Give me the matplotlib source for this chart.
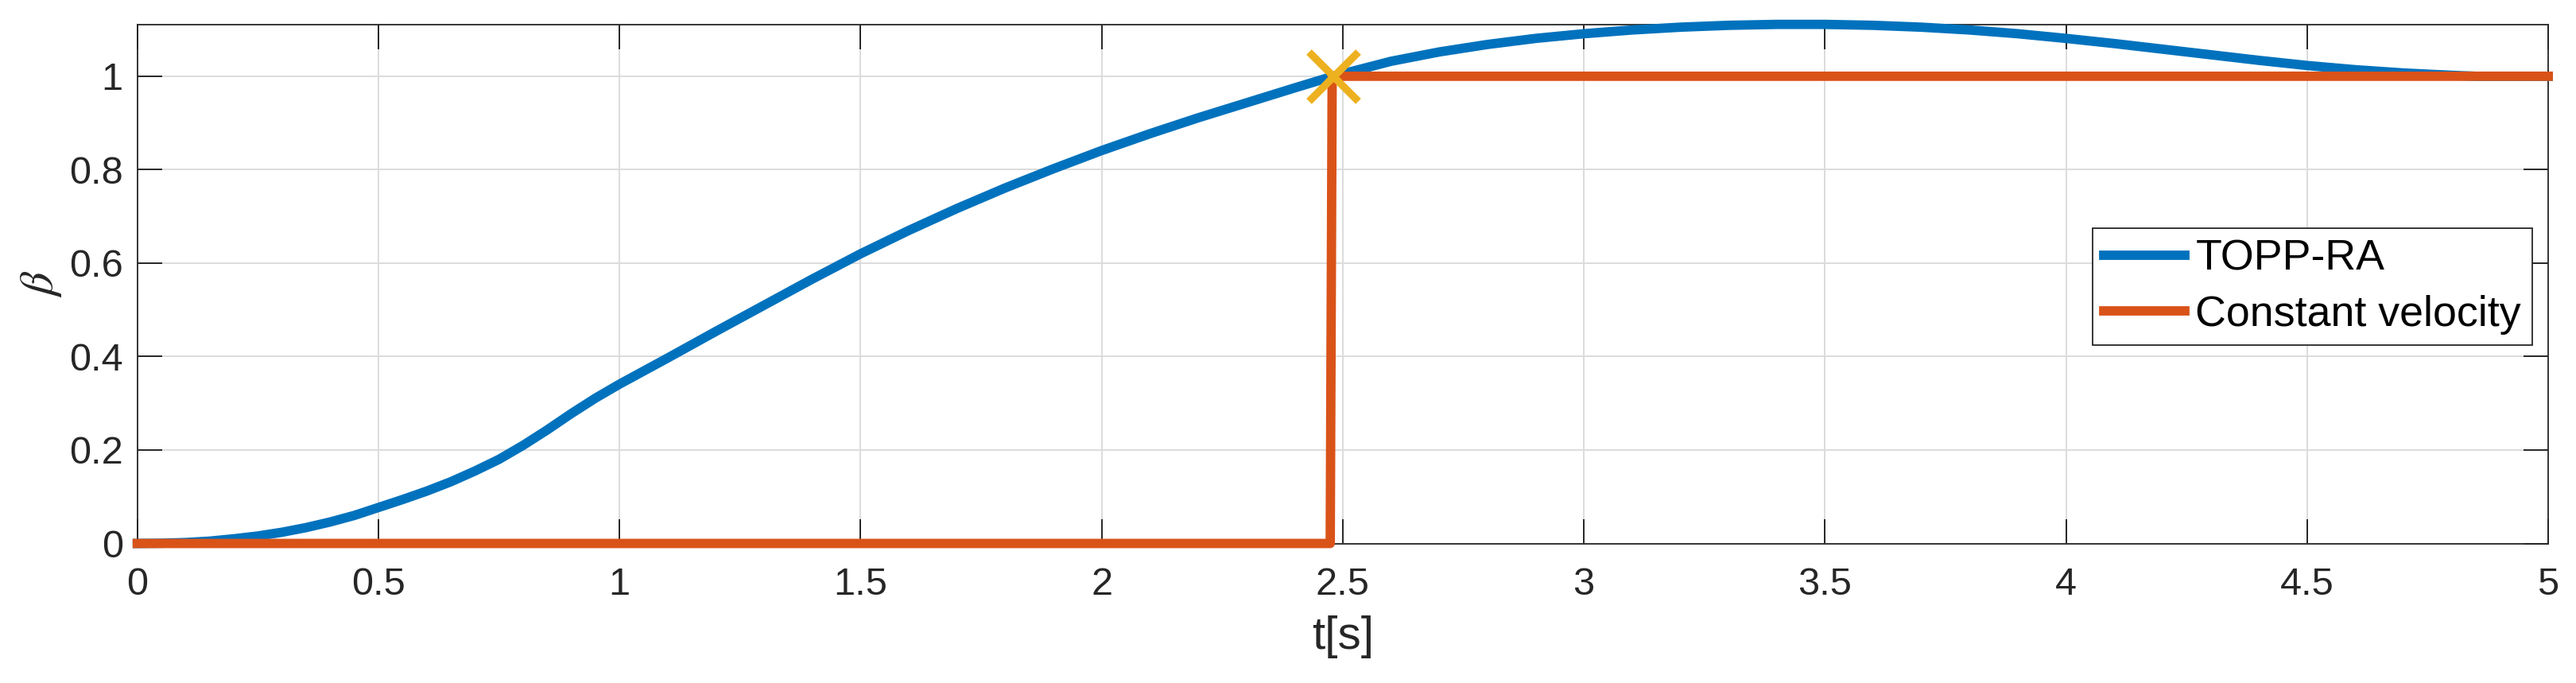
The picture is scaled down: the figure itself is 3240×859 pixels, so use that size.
import matplotlib
matplotlib.use("Agg")
import matplotlib.pyplot as plt

plt.rcParams['font.family'] = ['Liberation Sans', 'DejaVu Sans']
plt.rcParams['mathtext.fontset'] = 'stix'

# Profil TOPP-RA
t_topp = [0, 0.05, 0.1, 0.15, 0.2, 0.25, 0.3, 0.35, 0.4, 0.45,
          0.5, 0.55, 0.6, 0.65, 0.7, 0.75, 0.8, 0.85, 0.9, 0.95,
          1.0, 1.1, 1.2, 1.3, 1.4, 1.5, 1.6, 1.7, 1.8, 1.9,
          2.0, 2.1, 2.2, 2.3, 2.4, 2.48, 2.6, 2.7, 2.8, 2.9,
          3.0, 3.1, 3.2, 3.3, 3.4, 3.5, 3.6, 3.7, 3.8, 3.9,
          4.0, 4.1, 4.2, 4.3, 4.4, 4.5, 4.6, 4.7, 4.8, 4.85, 5.0]
beta_topp = [0, 0.0005, 0.002, 0.005, 0.01, 0.016, 0.024, 0.034, 0.046, 0.06,
             0.077, 0.094, 0.112, 0.132, 0.155, 0.18, 0.21, 0.243, 0.278, 0.311,
             0.341, 0.397, 0.454, 0.510, 0.566, 0.620, 0.670, 0.717, 0.761, 0.802,
             0.841, 0.877, 0.911, 0.943, 0.975, 1.0, 1.032, 1.052, 1.068, 1.081,
             1.091, 1.099, 1.105, 1.109, 1.111, 1.111, 1.109, 1.105, 1.099, 1.091,
             1.081, 1.070, 1.058, 1.046, 1.034, 1.023, 1.014, 1.007, 1.002, 1.0, 1.0]

# Vitesse constante
t_const = [0, 2.474, 2.478, 5]
beta_const = [0, 0, 1, 1]

# Point de rencontre
t_switch = [2.48]
beta_switch = [1.0]

xticks = [0, 0.5, 1, 1.5, 2, 2.5, 3, 3.5, 4, 4.5, 5]
xtick_labels = ['0', '0.5', '1', '1.5', '2', '2.5', '3', '3.5', '4', '4.5', '5']
yticks = [0, 0.2, 0.4, 0.6, 0.8, 1]
ytick_labels = ['0', '0.2', '0.4', '0.6', '0.8', '1']

axe_col = '#262626'

fig = plt.figure(figsize=(32.41, 8.59), dpi=100)
ax = fig.add_axes([0.0533, 0.2043, 0.9356, 0.76])

ax.plot(t_topp, beta_topp, color='#0072BD', linewidth=8.5, label='TOPP-RA',
        clip_on=False, zorder=3)
ax.plot(t_const, beta_const, color='#D95319', linewidth=8.5, label='Constant velocity',
        clip_on=False, zorder=3)
ax.plot(t_switch, beta_switch, 'x', color='#EDB120', markersize=44, markeredgewidth=6.8,
        clip_on=False, zorder=4)

ax.set_xlim(0, 5)
ax.set_ylim(0, max(beta_topp))
ax.set_xticks(xticks)
ax.set_xticklabels(xtick_labels)
ax.set_yticks(yticks)
ax.set_yticklabels(ytick_labels)

ax.grid(True, color='#dcdcdc', linewidth=1.4)
ax.tick_params(direction='in', top=True, right=True, length=22, width=1.4,
               colors=axe_col, labelsize=35)
ax.tick_params(axis='x', pad=21)
ax.tick_params(axis='y', pad=13)
for s in ax.spines.values():
    s.set_color(axe_col)
    s.set_linewidth(1.3)

ax.set_xlabel('t[s]', fontsize=42, color=axe_col, labelpad=12)
ax.set_ylabel(r'$\beta$', fontsize=42, color=axe_col, labelpad=5)

leg = ax.legend(loc='center', bbox_to_anchor=(0.8974, 0.580), bbox_transform=fig.transFigure,
                fontsize=38.7, handlelength=1.9, handletextpad=0.25, borderpad=0.25,
                labelspacing=0.38, fancybox=False, framealpha=1)
leg.get_frame().set_edgecolor(axe_col)
leg.get_frame().set_linewidth(1.3)

fig.savefig('out.png', dpi=100)
